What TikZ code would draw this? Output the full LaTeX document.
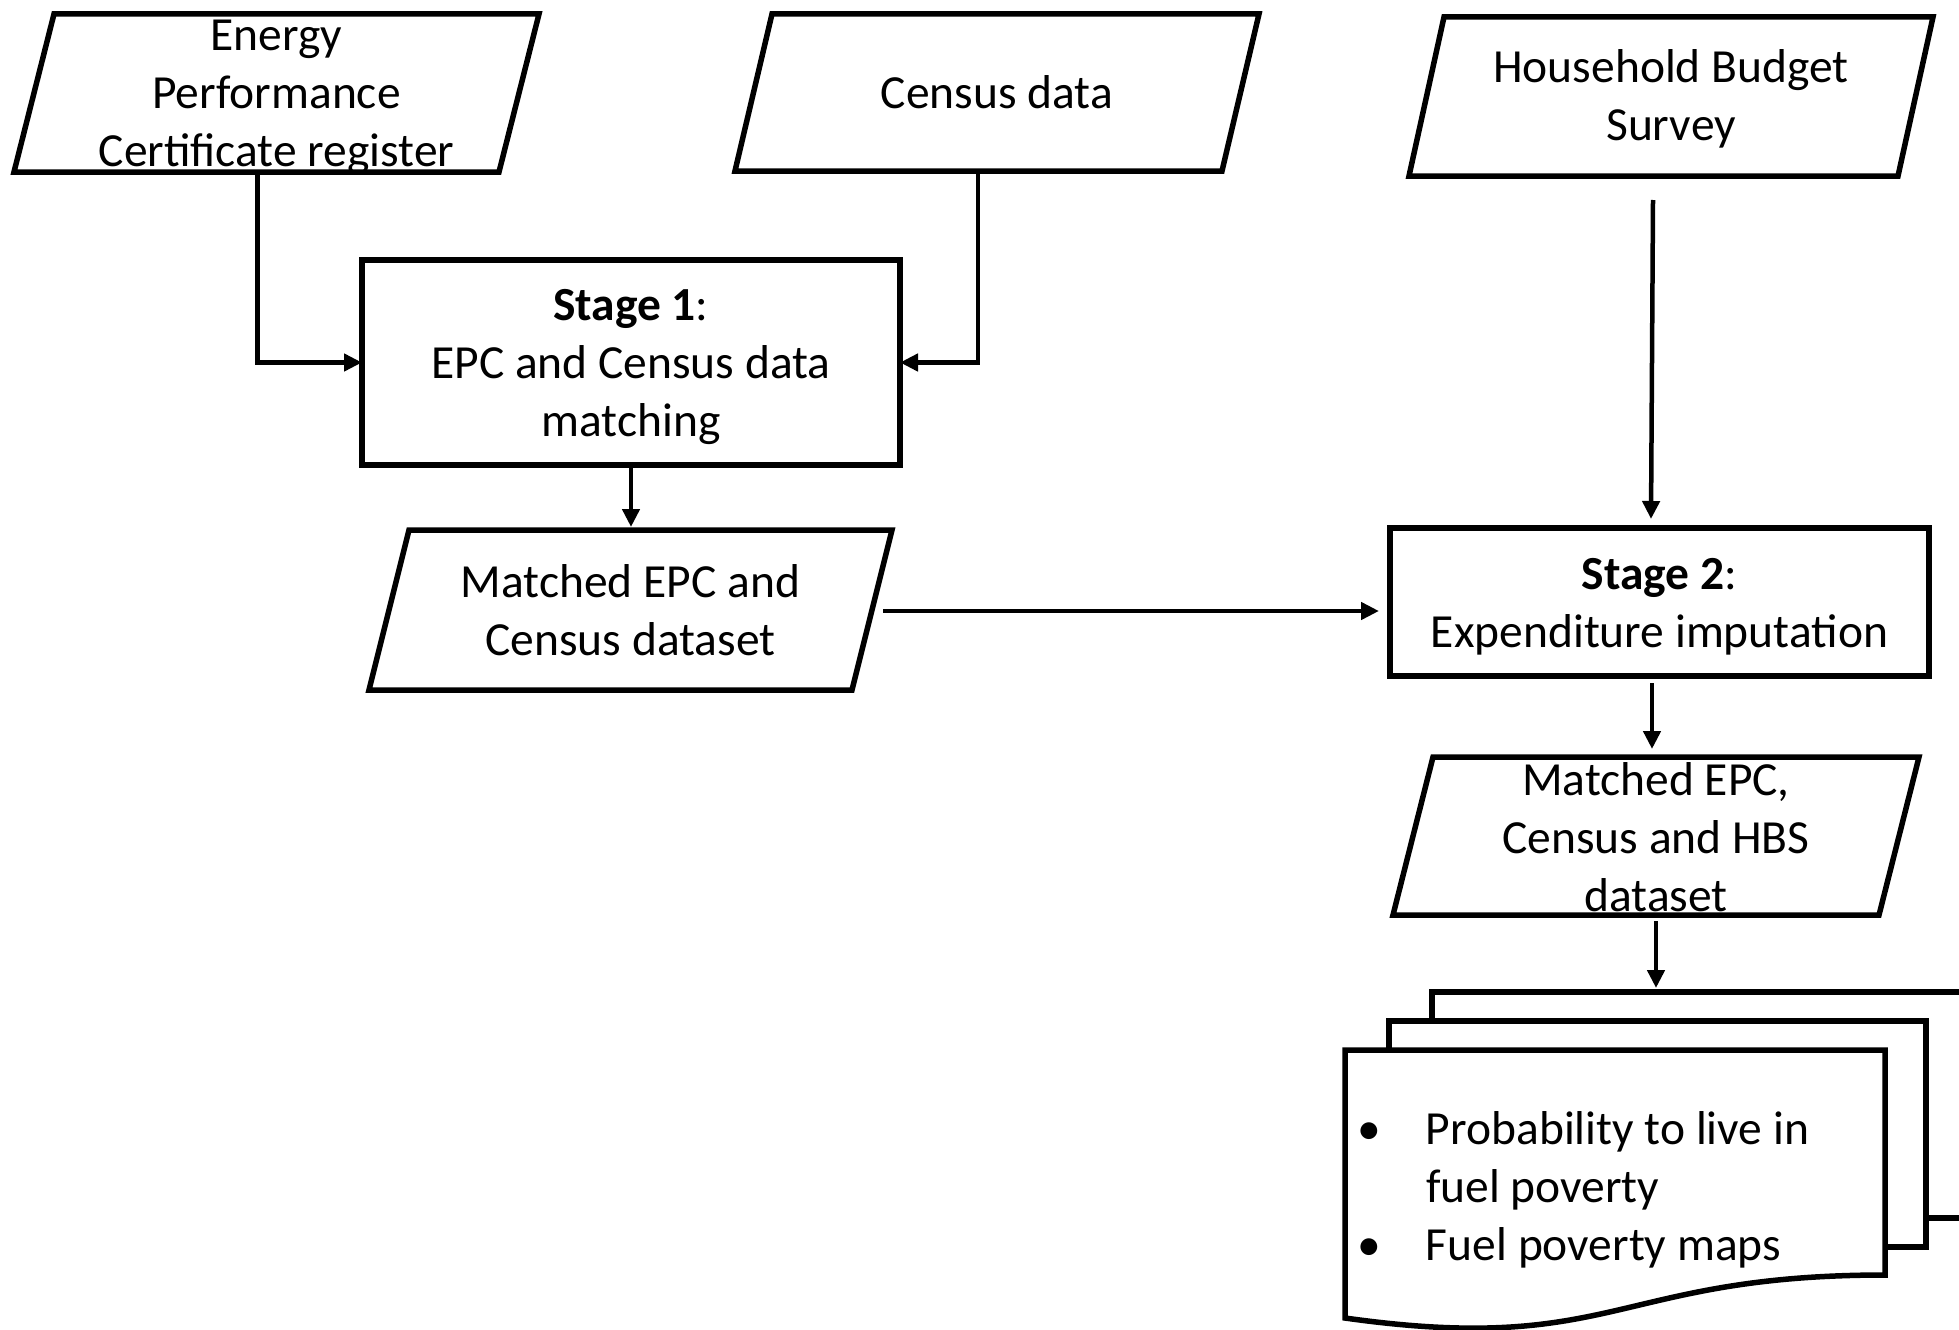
\documentclass[tikz,border=0pt]{standalone}
\usepackage{fontspec}
\setmainfont{Carlito}
\usetikzlibrary{arrows.meta,calc}
\begin{document}
\begin{tikzpicture}[x=1pt,y=-1pt,
  txt/.style={font=\fontsize{47.5}{58}\selectfont, align=center, inner sep=0pt, outer sep=0pt},
  frame/.style={draw, line width=5.5pt, inner sep=0pt, outer sep=0pt, fill=white},
  pbox/.style={draw=none, inner sep=0pt, outer sep=0pt},
  shp/.style={draw, line width=5.5pt, line join=miter, fill=white},
  conn/.style={line width=4.5pt, -{Triangle[length=18pt,width=17pt]}}]
\useasboundingbox (0,0) rectangle (1959,1330);
\clip (0,0) rectangle (1959,1330);

% Parallelogram: EPC register
\node[pbox, minimum width=525pt, minimum height=158pt] (epc) at (276.5,93) {};
\draw[shp] ($(epc.north west)+(40,0)$) -- (epc.north east) -- ($(epc.south east)+(-40,0)$) -- (epc.south west) -- cycle;
\node[txt] (epct) at (276.5,97.5) {Energy\\Performance\\Certificate register};

% Parallelogram: Census data
\node[pbox, minimum width=524pt, minimum height=157pt] (census) at (997,92.5) {};
\draw[shp] ($(census.north west)+(37,0)$) -- (census.north east) -- ($(census.south east)+(-37,0)$) -- (census.south west) -- cycle;
\node[txt] (censust) at (997,92.5) {Census data};

% Parallelogram: HBS
\node[pbox, minimum width=524pt, minimum height=159pt] (hbs) at (1671,96.5) {};
\draw[shp] ($(hbs.north west)+(35,0)$) -- (hbs.north east) -- ($(hbs.south east)+(-35,0)$) -- (hbs.south west) -- cycle;
\node[txt] (hbst) at (1671,99) {Household Budget\\Survey};

% Stage 1
\node[frame, minimum width=538pt, minimum height=205pt] (st1) at (631,362.5) {};
\node[txt] (st1t) at (631,367.5) {\textbf{Stage 1}:\\EPC and Census data\\matching};

% Matched EPC and Census
\node[pbox, minimum width=523pt, minimum height=160pt] (m1) at (630.5,610) {};
\draw[shp] ($(m1.north west)+(40,0)$) -- (m1.north east) -- ($(m1.south east)+(-40,0)$) -- (m1.south west) -- cycle;
\node[txt] (m1t) at (630.5,610) {Matched EPC and\\Census dataset};

% Stage 2
\node[frame, minimum width=539pt, minimum height=148pt] (st2) at (1659.5,602) {};
\node[txt] (st2t) at (1659.5,607) {\textbf{Stage 2}:\\Expenditure imputation};

% Matched EPC, Census and HBS
\node[pbox, minimum width=526pt, minimum height=158pt] (m3) at (1656,836) {};
\draw[shp] ($(m3.north west)+(40,0)$) -- (m3.north east) -- ($(m3.south east)+(-40,0)$) -- (m3.south west) -- cycle;
\node[txt] (m3t) at (1656,837) {Matched EPC,\\Census and HBS\\dataset};

% Multi-document
\node[frame, minimum width=578pt, minimum height=226pt] (back) at (1721,1105) {};
\node[frame, minimum width=537pt, minimum height=226pt] (mid) at (1657.5,1134) {};
\node[pbox, minimum width=540pt, minimum height=225pt] (front) at (1615,1162.5) {};
\draw[shp] (front.south east) -- (front.north east) -- (front.north west) -- ($(front.south west)+(0,43)$) .. controls (1615,1356) and (1615,1275) .. (front.south east) -- cycle;
\node[txt, align=left, anchor=north west] (doct) at (1426,1112) {\llap{\textbullet\hspace{45pt}}Probability to live in\\fuel poverty\\\llap{\textbullet\hspace{45pt}}Fuel poverty maps};

% Connectors
\draw[conn] ($(epc.south)+(-19,0)$) |- (st1.west);
\draw[conn] ($(census.south)+(-19,0)$) |- (st1.east);
\draw[conn, shorten >=3pt] (st1.south) -- (st1.south |- m1.north);
\coordinate (m1out) at ($(m1.east)+(-9,1)$);
\draw[conn, shorten >=11pt] (m1out) -- (m1out -| st2.west);
\draw[conn] ($(hbs.south)+(-18,24)$) -- ($(st2.north)+(-8.5,-9)$);
\draw[conn] ($(st2.south)+(-7.5,7)$) -- ($(m3.north)+(-4,-8)$);
\draw[conn, shorten >=4pt] ($(m3.south)+(0,6)$) -- (m3.south |- back.north);
\end{tikzpicture}
\end{document}
